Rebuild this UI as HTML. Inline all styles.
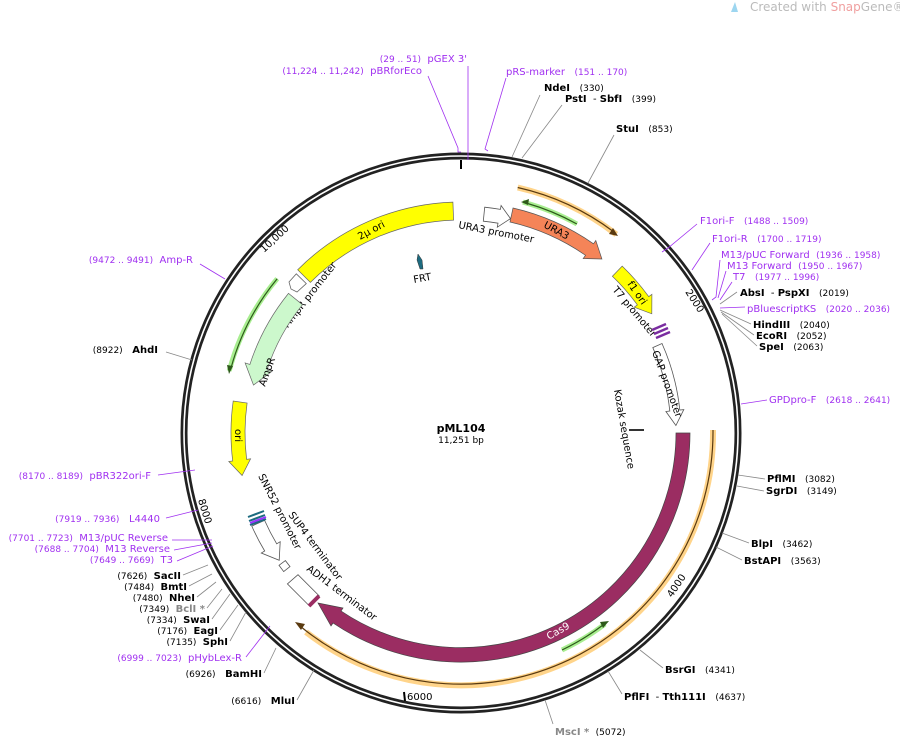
<!DOCTYPE html>
<html><head><meta charset="utf-8"><style>
html,body{margin:0;padding:0;background:#fff}
svg{display:block}
text{font-family:"DejaVu Sans","Liberation Sans",sans-serif;font-size:10px;white-space:pre}
.p{fill:#a030f0}
.n{font-size:9px}
.b{font-weight:bold}
.g{fill:#888}
</style></head><body>
<svg width="900" height="738" viewBox="0 0 900 738" xmlns="http://www.w3.org/2000/svg" xml:space="preserve">
<rect width="900" height="738" fill="#fff"/>
<text x="750" y="11" fill="#bbb" style="font-size:12px">Created with <tspan fill="#f0a0a0">Snap</tspan>Gene®</text>
<path d="M731,12 l4,-10 l3,10z" fill="#9dd6f0"/>

<circle cx="461" cy="433" r="277" fill="none" stroke="#222" stroke-width="7"/>
<circle cx="461" cy="433" r="277" fill="none" stroke="#fff" stroke-width="1.6"/>

<text x="0" y="0" transform="translate(685,292) rotate(57)" style="font-size:10px">2000</text>
<text x="0" y="0" transform="translate(672,598) rotate(-56)" style="font-size:10px">4000</text>
<text x="407" y="700" style="font-size:10px">6000</text>
<text x="0" y="0" transform="translate(198,500) rotate(73)" style="font-size:10px">8000</text>
<text x="0" y="0" transform="translate(264,253) rotate(-43)" style="font-size:10px">10,000</text>
<line x1="404" y1="692" x2="405" y2="701" stroke="#000" stroke-width="2"/>
<line x1="461" y1="160" x2="461" y2="169" stroke="#000" stroke-width="2"/>

<path d="M713,430 A252,252 0 0 1 306,632" fill="none" stroke="#ffd48a" stroke-width="6"/>
<path d="M713,430 A252,252 0 0 1 300,626" fill="none" stroke="#5a3a10" stroke-width="1.2"/>
<path d="M295,622 l10,2 l-4,6z" fill="#5a3a10"/>
<path d="M690,433 A229,229 0 0 1 333,623 L331,626 L318,603 L343,608 L341,611 A215,215 0 0 0 676,433 Z" fill="#9b2d62" stroke="#444" stroke-width="0.7"/>
<text transform="translate(549,640) rotate(-30)" fill="#fff" style="font-size:10px">Cas9</text>
<path d="M562,650 A239,239 0 0 0 605,624" fill="none" stroke="#a8ee90" stroke-width="5"/>
<path d="M562,650 A239,239 0 0 0 603,625" fill="none" stroke="#2d5a1a" stroke-width="1.2"/>
<path d="M609,621 l-9,1 l3,6z" fill="#2d5a1a"/>

<path d="M517.7,187.5 A252,252 0 0 1 616.2,234.4" fill="none" stroke="#ffd48a" stroke-width="6"/>
<path d="M517.7,187.5 A252,252 0 0 1 614,232" fill="none" stroke="#5a3a10" stroke-width="1.2"/>
<path d="M618,236 l-9,-2 l4,-6z" fill="#5a3a10"/>
<path d="M576.9,224 A239,239 0 0 0 522.9,202.1" fill="none" stroke="#a8ee90" stroke-width="5"/>
<path d="M576.9,224 A239,239 0 0 0 526,203" fill="none" stroke="#2d5a1a" stroke-width="1.2"/>
<path d="M521,202 l8,-3 l-1,6z" fill="#2d5a1a"/>
<path d="M513,208 A231,231 0 0 1 593.5,243.8 L595.8,240.5 L601.9,259 L583.2,258.5 L585.5,255.3 A217,217 0 0 0 510,222 Z" fill="#f58458" stroke="#555" stroke-width="0.7"/>
<text transform="translate(543,227) rotate(28)" style="font-size:10px">URA3</text>
<path d="M484.7,207.2 A227,227 0 0 1 500.4,209.4 L501.1,205.5 L510.5,218.6 L497.3,227.2 L498,223.2 A213,213 0 0 0 483.3,221.2 Z" fill="#fff" stroke="#555" stroke-width="0.8"/>
<text transform="translate(458,228) rotate(11)" style="font-size:10px">URA3 promoter</text>

<path d="M452.9,202.1 A231,231 0 0 0 297.7,269.7 L310.4,282.4 A213,213 0 0 1 453.6,220.1 Z" fill="#ffff00" stroke="#666" stroke-width="0.7"/>
<text transform="translate(360,240) rotate(-28)" style="font-size:10px">2µ ori</text>
<path d="M296.3,273.8 L306.3,283.6 L297,292 L291,289 L289,282 Z" fill="#fff" stroke="#666" stroke-width="0.8"/>
<text transform="translate(288,328) rotate(-52)" style="font-size:10px">AmpR promoter</text>
<path d="M277.2,278.7 A240,240 0 0 0 229.2,370.9" fill="none" stroke="#a8ee90" stroke-width="5"/>
<path d="M277.2,278.7 A240,240 0 0 0 231,368" fill="none" stroke="#2d5a1a" stroke-width="1.2"/>
<path d="M229,374 l-2,-9 l6,1z" fill="#2d5a1a"/>
<path d="M288.5,293.4 A222,222 0 0 0 249.9,364.4 L245.1,362.9 L253.5,385.1 L271.7,371.5 L267,370 A204,204 0 0 1 302.5,304.7 Z" fill="#ccf8cc" stroke="#666" stroke-width="0.7"/>
<text transform="translate(265,387) rotate(-70)" style="font-size:10px">AmpR</text>
<path d="M233.2,401 A230,230 0 0 0 232.7,461 L228.8,461.5 L242.1,475.5 L250.6,458.8 L246.6,459.3 A216,216 0 0 1 247.1,403 Z" fill="#ffff00" stroke="#666" stroke-width="0.7"/>
<text transform="translate(235,429) rotate(90)" style="font-size:10px">ori</text>

<path d="M418,254 l4,6 l1,9 l-3,0 l-3,-9z" fill="#1d6b80" stroke="#333" stroke-width="0.5"/>
<text transform="translate(414,283) rotate(-10)" style="font-size:10px">FRT</text>

<path d="M622.2,266.1 A232,232 0 0 1 648.7,296.6 L651.9,294.3 L651.8,313.8 L634.1,307.2 L637.4,304.9 A218,218 0 0 0 612.4,276.2 Z" fill="#ffff00" stroke="#666" stroke-width="0.7"/>
<text transform="translate(627,284) rotate(55)" style="font-size:10px">f1 ori</text>
<text transform="translate(612,290) rotate(50)" style="font-size:10px">T7 promoter</text>
<path d="M652,330 l14,-6 M654,334 l14,-6 M656,338 l14,-6" stroke="#7a2da0" stroke-width="2.5"/>
<path d="M662,343.5 A220,220 0 0 1 679.8,410 L683.8,409.6 L675.9,425.5 L665.9,411.5 L669.8,411 A210,210 0 0 0 652.8,347.6 Z" fill="#fff" stroke="#555" stroke-width="0.8"/>
<text transform="translate(652,352) rotate(70)" style="font-size:10px">GAP promoter</text>
<line x1="629" y1="430" x2="644" y2="430" stroke="#333" stroke-width="2"/>
<text transform="translate(614,390) rotate(80)" style="font-size:10px">Kozak sequence</text>

<path d="M251.8,526.1 A229,229 0 0 0 264.7,551 L261.3,553 L279.2,560.3 L280.2,541.7 L276.7,543.8 A215,215 0 0 1 264.6,520.4 Z" fill="#fff" stroke="#555" stroke-width="0.8"/>
<path d="M248,517 l16,-6 M249,521 l16,-6 M250,525 l16,-6" stroke="#1d6b80" stroke-width="2"/>
<path d="M250,523 l16,-6" stroke="#9933ff" stroke-width="2"/>
<text transform="translate(258,476) rotate(63)" style="font-size:10px">SNR52 promoter</text>
<path d="M279,565.3 L285.4,560.6 L290,566.6 L283.7,571.6 Z" fill="#fff" stroke="#555" stroke-width="0.8"/>
<text transform="translate(288,515) rotate(53)" style="font-size:10px">SUP4 terminator</text>
<path d="M287.4,583.9 L298,574.7 L319.3,596 L310.1,606.6 Z" fill="#fff" stroke="#555" stroke-width="0.8"/>
<path d="M309,606 l10,-10" stroke="#9b2d62" stroke-width="4"/>
<text transform="translate(306,570) rotate(37)" style="font-size:10px">ADH1 terminator</text>

<text x="461" y="432" text-anchor="middle" font-weight="bold" style="font-size:11px">pML104</text>
<text x="461" y="443" text-anchor="middle" style="font-size:9px">11,251 bp</text>

<g fill="none" stroke-width="0.8">
<path d="M428,76 L458,148 L458,152 L461,152" stroke="#a030f0"/>
<path d="M468,66 L468,160" stroke="#a030f0"/>
<path d="M506,78 L485,149 L488,151" stroke="#a030f0"/>
<path d="M540,95 L512,157" stroke="#888"/>
<path d="M562,105 L522,158" stroke="#888"/>
<path d="M614,135 L588,183" stroke="#888"/>
<path d="M697,224 L668,248 L662,252" stroke="#a030f0"/>
<path d="M710,243 L696,264 L692,270" stroke="#a030f0"/>
<path d="M720,260 L716,297 L712,300 M726,271 L718,298 M732,282 L720,300" stroke="#a030f0"/>
<path d="M737,292 L720,304" stroke="#888"/>
<path d="M745,307 L720,308" stroke="#a030f0"/>
<path d="M751,324 L720,310 M754,335 L721,312 M757,346 L722,314" stroke="#888"/>
<path d="M767,400 L741,404" stroke="#a030f0"/>
<path d="M765,479 L738,475 M764,491 L737,486" stroke="#888"/>
<path d="M749,543 L722,533 M742,560 L716,547" stroke="#888"/>
<path d="M663,668 L640,650 M622,694 L608,671 M553,724 L545,700" stroke="#888"/>
<path d="M200,264 L225,279" stroke="#a030f0"/>
<path d="M166,352 L192,360" stroke="#888"/>
<path d="M158,475 L195,470" stroke="#a030f0"/>
<path d="M166,518 L198,510" stroke="#a030f0"/>
<path d="M172,540 L212,540 M174,550 L212,543 M177,561 L213,546" stroke="#a030f0"/>
<path d="M183,575 L208,565 M189,586 L212,574 M197,597 L216,582 M207,608 L222,589 M212,619 L230,594 M220,630 L238,605 M230,641 L246,612" stroke="#888"/>
<path d="M246,657 L270,626" stroke="#a030f0"/>
<path d="M264,673 L276,648 M297,700 L314,670" stroke="#888"/>
</g>

<text x="467" y="62" text-anchor="end" class="p"><tspan class="n">(29 .. 51)</tspan>  pGEX 3'</text>
<text x="422" y="74" text-anchor="end" class="p"><tspan class="n">(11,224 .. 11,242)</tspan>  pBRforEco</text>
<text x="506" y="75" class="p">pRS-marker   <tspan class="n">(151 .. 170)</tspan></text>
<text x="544" y="91"><tspan class="b">NdeI</tspan>   <tspan class="n">(330)</tspan></text>
<text x="565" y="102"><tspan class="b">PstI</tspan>  - <tspan class="b">SbfI</tspan>   <tspan class="n">(399)</tspan></text>
<text x="616" y="132"><tspan class="b">StuI</tspan>   <tspan class="n">(853)</tspan></text>
<text x="700" y="224" class="p">F1ori-F   <tspan class="n">(1488 .. 1509)</tspan></text>
<text x="712" y="242" class="p">F1ori-R   <tspan class="n">(1700 .. 1719)</tspan></text>
<text x="721" y="258" class="p">M13/pUC Forward  <tspan class="n">(1936 .. 1958)</tspan></text>
<text x="727" y="269" class="p">M13 Forward  <tspan class="n">(1950 .. 1967)</tspan></text>
<text x="733" y="280" class="p">T7   <tspan class="n">(1977 .. 1996)</tspan></text>
<text x="740" y="296"><tspan class="b">AbsI</tspan>  - <tspan class="b">PspXI</tspan>   <tspan class="n">(2019)</tspan></text>
<text x="747" y="312" class="p">pBluescriptKS   <tspan class="n">(2020 .. 2036)</tspan></text>
<text x="753" y="328"><tspan class="b">HindIII</tspan>   <tspan class="n">(2040)</tspan></text>
<text x="756" y="339"><tspan class="b">EcoRI</tspan>   <tspan class="n">(2052)</tspan></text>
<text x="759" y="350"><tspan class="b">SpeI</tspan>   <tspan class="n">(2063)</tspan></text>
<text x="769" y="403" class="p">GPDpro-F   <tspan class="n">(2618 .. 2641)</tspan></text>
<text x="767" y="482"><tspan class="b">PflMI</tspan>   <tspan class="n">(3082)</tspan></text>
<text x="766" y="494"><tspan class="b">SgrDI</tspan>   <tspan class="n">(3149)</tspan></text>
<text x="751" y="547"><tspan class="b">BlpI</tspan>   <tspan class="n">(3462)</tspan></text>
<text x="744" y="564"><tspan class="b">BstAPI</tspan>   <tspan class="n">(3563)</tspan></text>
<text x="665" y="673"><tspan class="b">BsrGI</tspan>   <tspan class="n">(4341)</tspan></text>
<text x="624" y="700"><tspan class="b">PflFI</tspan>  - <tspan class="b">Tth111I</tspan>   <tspan class="n">(4637)</tspan></text>
<text x="555" y="735"><tspan class="b g">MscI *</tspan>  <tspan class="n">(5072)</tspan></text>

<text x="193" y="263" text-anchor="end" class="p"><tspan class="n">(9472 .. 9491)</tspan>  Amp-R</text>
<text x="158" y="353" text-anchor="end"><tspan class="n">(8922)</tspan>   <tspan class="b">AhdI</tspan></text>
<text x="151" y="479" text-anchor="end" class="p"><tspan class="n">(8170 .. 8189)</tspan>  pBR322ori-F</text>
<text x="160" y="522" text-anchor="end" class="p"><tspan class="n">(7919 .. 7936)</tspan>   L4440</text>
<text x="168" y="541" text-anchor="end" class="p"><tspan class="n">(7701 .. 7723)</tspan>  M13/pUC Reverse</text>
<text x="170" y="552" text-anchor="end" class="p"><tspan class="n">(7688 .. 7704)</tspan>  M13 Reverse</text>
<text x="173" y="563" text-anchor="end" class="p"><tspan class="n">(7649 .. 7669)</tspan>  T3</text>
<text x="181" y="579" text-anchor="end"><tspan class="n">(7626)</tspan>  <tspan class="b">SacII</tspan></text>
<text x="187" y="590" text-anchor="end"><tspan class="n">(7484)</tspan>  <tspan class="b">BmtI</tspan></text>
<text x="195" y="601" text-anchor="end"><tspan class="n">(7480)</tspan>  <tspan class="b">NheI</tspan></text>
<text x="205" y="612" text-anchor="end"><tspan class="n">(7349)</tspan>  <tspan class="b g">BclI *</tspan></text>
<text x="210" y="623" text-anchor="end"><tspan class="n">(7334)</tspan>  <tspan class="b">SwaI</tspan></text>
<text x="218" y="634" text-anchor="end"><tspan class="n">(7176)</tspan>  <tspan class="b">EagI</tspan></text>
<text x="228" y="645" text-anchor="end"><tspan class="n">(7135)</tspan>  <tspan class="b">SphI</tspan></text>
<text x="242" y="661" text-anchor="end" class="p"><tspan class="n">(6999 .. 7023)</tspan>  pHybLex-R</text>
<text x="262" y="677" text-anchor="end"><tspan class="n">(6926)</tspan>   <tspan class="b">BamHI</tspan></text>
<text x="295" y="704" text-anchor="end"><tspan class="n">(6616)</tspan>   <tspan class="b">MluI</tspan></text>
</svg>
</body></html>
